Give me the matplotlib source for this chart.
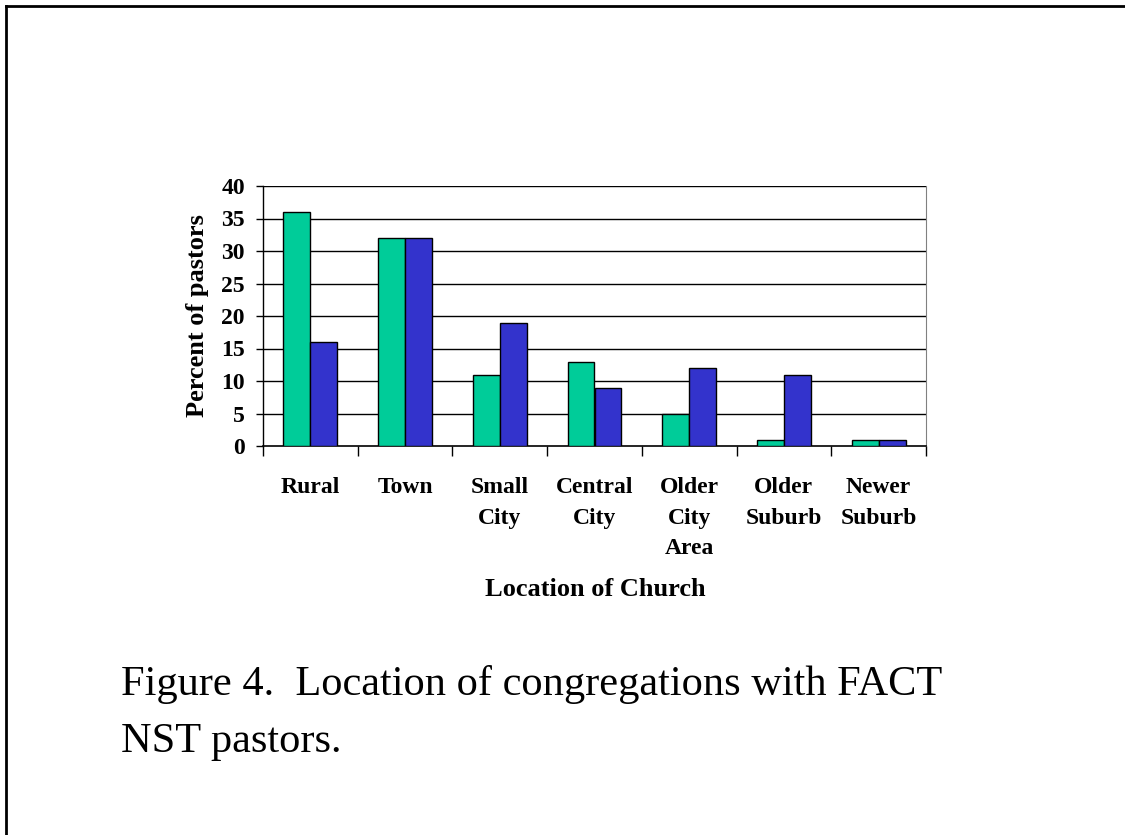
import matplotlib
matplotlib.use("Agg")
import matplotlib.pyplot as plt
from matplotlib.lines import Line2D
import numpy as np

categories = ["Rural", "Town", "Small\nCity", "Central\nCity", "Older\nCity\nArea", "Older\nSuburb", "Newer\nSuburb"]
series_green = [36, 32, 11, 13, 5, 1, 1]
series_blue = [16, 32, 19, 9, 12, 11, 1]
y_ticks = [0, 5, 10, 15, 20, 25, 30, 35, 40]

GREEN = "#00CC99"
BLUE = "#3333CC"
SERIF = ["Liberation Serif", "DejaVu Serif"]

W, H = 1125, 835
fig = plt.figure(figsize=(W / 100, H / 100), dpi=100)

# plot area in pixels: left 263, right 926, top 186, bottom 446
ax = fig.add_axes([263 / W, 1 - 446 / H, (926 - 263) / W, (446 - 186) / H])

x = np.arange(len(categories))
bw = 0.285
ax.bar(x - bw / 2, series_green, bw, color=GREEN, edgecolor="black", linewidth=1, zorder=3)
ax.bar(x + bw / 2, series_blue, bw, color=BLUE, edgecolor="black", linewidth=1, zorder=3)

ax.set_xlim(-0.5, len(categories) - 0.5)
ax.set_ylim(0, 40)
ax.set_yticks(y_ticks)
ax.set_yticklabels([str(v) for v in y_ticks], fontfamily=SERIF, fontweight="bold", fontsize=17)
for v in y_ticks[1:]:
    ax.axhline(v, color="black", linewidth=1, zorder=1)

# category boundary ticks below axis
ax.set_xticks(np.arange(len(categories) + 1) - 0.5)
ax.set_xticklabels([])
ax.tick_params(axis="x", length=7, width=1, direction="out")
ax.tick_params(axis="y", length=5, width=1, direction="out", pad=8)
for i, lab in enumerate(categories):
    ax.text(i, -0.12, lab, transform=ax.get_xaxis_transform(), ha="center", va="top",
            fontfamily=SERIF, fontweight="bold", fontsize=17, linespacing=1.6)

ax.spines["top"].set_visible(False)
ax.spines["right"].set_color("#808080")
ax.spines["left"].set_linewidth(1)
ax.spines["bottom"].set_linewidth(1.2)

ax.set_ylabel("Percent of pastors", fontfamily=SERIF, fontweight="bold", fontsize=19, labelpad=9)
fig.text(595 / W, 1 - 590 / H, "Location of Church", ha="center", va="center",
         fontfamily=SERIF, fontweight="bold", fontsize=19)

fig.text(121 / W, 1 - 713 / H, "Figure 4.  Location of congregations with FACT\nNST pastors.",
         ha="left", va="center", fontfamily=SERIF, fontsize=30.5, linespacing=1.6)

# page frame lines (top and left)
fig.add_artist(Line2D([6 / W, 1], [1 - 6 / H, 1 - 6 / H], color="black", linewidth=2))
fig.add_artist(Line2D([6 / W, 6 / W], [0, 1 - 6 / H], color="black", linewidth=2))

fig.savefig("out.png", dpi=100)
